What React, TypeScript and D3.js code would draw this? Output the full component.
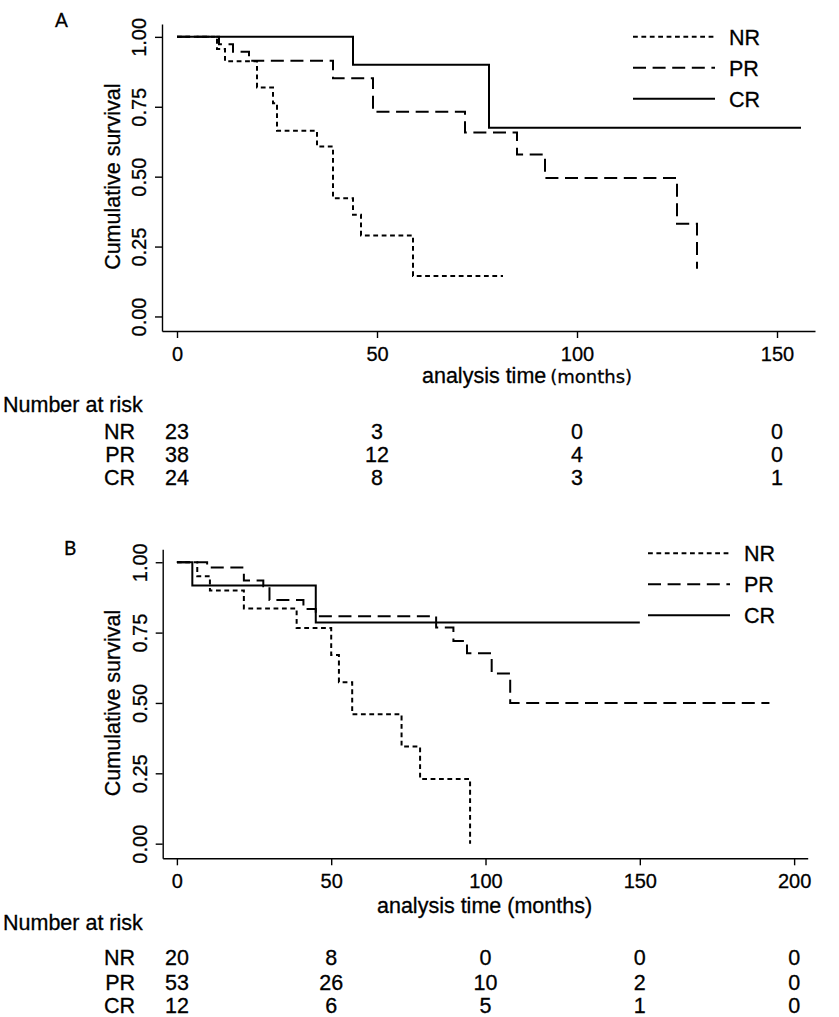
import { FC, useEffect, useRef } from 'react';
import * as d3 from 'd3';

// Panel A — step times (months) and survival after each step
const aNrTimes = [10, 12, 20, 24, 25, 35, 39, 44, 46, 59];
const aNrSurv = [0.957, 0.913, 0.819, 0.763, 0.664, 0.608, 0.423, 0.364, 0.29, 0.145];
const aNrEnd = 81.5;
const aPrTimes = [10.5, 14, 18, 39, 49, 72, 85, 92, 125, 130];
const aPrSurv = [0.974, 0.947, 0.915, 0.852, 0.732, 0.658, 0.579, 0.495, 0.332, 0.171];
const aPrEnd = 130;
const aCrTimes = [44, 78];
const aCrSurv = [0.9, 0.675];
const aCrEnd = 156;
const aTicks = [0, 50, 100, 150];
const aRiskNr = [23, 3, 0, 0];
const aRiskPr = [38, 12, 4, 0];
const aRiskCr = [24, 8, 3, 1];

// Panel B
const bNrTimes = [6.6, 10.7, 21.7, 38.8, 50, 52.5, 56.8, 72.8, 78.8, 95];
const bNrSurv = [0.95, 0.9, 0.836, 0.766, 0.67, 0.574, 0.46, 0.345, 0.23, 0];
const bNrEnd = 95;
const bPrTimes = [9.8, 21.7, 28, 30, 41, 45, 84, 89.6, 94, 102, 108];
const bPrSurv = [0.981, 0.935, 0.915, 0.866, 0.834, 0.808, 0.768, 0.72, 0.677, 0.605, 0.5];
const bPrEnd = 192;
const bCrTimes = [5, 45];
const bCrSurv = [0.917, 0.786];
const bCrEnd = 150;
const bTicks = [0, 50, 100, 150, 200];
const bRiskNr = [20, 8, 0, 0, 0];
const bRiskPr = [53, 26, 10, 2, 0];
const bRiskCr = [12, 6, 5, 1, 0];

const groups = ['NR', 'PR', 'CR'];
const yTicks = [0, 0.25, 0.5, 0.75, 1];
const FONT = '"Liberation Sans", Arial, Helvetica, sans-serif';
const dashes: Record<string, string | null> = { NR: '4.8,3.6', PR: '13,6.6', CR: null };

type Curve = { times: number[]; surv: number[]; end: number };

interface PanelCfg {
  label: string;
  labelX: number;
  labelY: number;
  xDomain: [number, number];
  xRange: [number, number];
  yRange: [number, number];
  ticks: number[];
  curves: Curve[];
  risk: number[][];
  legendX: number;
  legendY: number;
  titleX: number;
  titleY: number;
  splitTitle: boolean;
  tickLabelY: number;
  riskHeaderY: number;
  riskRowsY: number[];
}

const toPoints = (c: Curve): [number, number][] => {
  const pts: [number, number][] = [[0, 1]];
  c.times.forEach((t, i) => pts.push([t, c.surv[i]]));
  const last = c.times[c.times.length - 1];
  if (c.end > last) pts.push([c.end, c.surv[c.surv.length - 1]]);
  return pts;
};

const panels: PanelCfg[] = [
  {
    label: 'A',
    labelX: 55,
    labelY: 27,
    xDomain: [-3.75, 159.5],
    xRange: [162, 815],
    yRange: [331, 24],
    ticks: aTicks,
    curves: [
      { times: aNrTimes, surv: aNrSurv, end: aNrEnd },
      { times: aPrTimes, surv: aPrSurv, end: aPrEnd },
      { times: aCrTimes, surv: aCrSurv, end: aCrEnd },
    ],
    risk: [aRiskNr, aRiskPr, aRiskCr],
    legendX: 633,
    legendY: 36.7,
    titleX: 422,
    titleY: 383,
    splitTitle: true,
    tickLabelY: 361,
    riskHeaderY: 412,
    riskRowsY: [438.5, 461.5, 485],
  },
  {
    label: 'B',
    labelX: 64,
    labelY: 555,
    xDomain: [-4.6, 204.4],
    xRange: [162.7, 807.7],
    yRange: [858.3, 549.3],
    ticks: bTicks,
    curves: [
      { times: bNrTimes, surv: bNrSurv, end: bNrEnd },
      { times: bPrTimes, surv: bPrSurv, end: bPrEnd },
      { times: bCrTimes, surv: bCrSurv, end: bCrEnd },
    ],
    risk: [bRiskNr, bRiskPr, bRiskCr],
    legendX: 648,
    legendY: 553.3,
    titleX: 377,
    titleY: 913,
    splitTitle: false,
    tickLabelY: 888.5,
    riskHeaderY: 930,
    riskRowsY: [965, 989.5, 1013.3],
  },
];

const KaplanMeier: FC = () => {
  const svgRef = useRef<SVGSVGElement>(null);

  useEffect(() => {
    if (!svgRef.current) return;
    const svg = d3.select(svgRef.current);
    svg.selectAll('*').remove();

    panels.forEach((p) => {
      const x = d3.scaleLinear().domain(p.xDomain).range(p.xRange);
      const y = d3.scaleLinear().domain([-0.052, 1.046]).range(p.yRange);
      const g = svg.append('g');

      // panel letter
      g.append('text')
        .attr('x', p.labelX)
        .attr('y', p.labelY)
        .style('font-family', 'Lato, "Open Sans", sans-serif')
        .style('font-size', '19px')
        .text(p.label);

      // y axis
      const yAxis = g
        .append('g')
        .attr('transform', `translate(${p.xRange[0]},0)`)
        .call(d3.axisLeft(y).tickValues(yTicks).tickSize(7).tickSizeOuter(0).tickFormat(d3.format('.2f')));
      yAxis.selectAll('path, line').attr('stroke', '#000').attr('stroke-width', 1.4);
      yAxis
        .selectAll('text')
        .attr('dy', null)
        .attr('transform', 'rotate(-90)')
        .attr('x', 0)
        .attr('y', -16)
        .attr('text-anchor', 'middle')
        .style('font-family', FONT)
        .style('font-size', '20px')
        .attr('fill', '#000');

      // x axis
      const xAxis = g
        .append('g')
        .attr('transform', `translate(0,${p.yRange[0]})`)
        .call(d3.axisBottom(x).tickValues(p.ticks).tickSize(7).tickSizeOuter(0).tickFormat(d3.format('d')));
      xAxis.selectAll('path, line').attr('stroke', '#000').attr('stroke-width', 1.4);
      xAxis
        .selectAll('text')
        .attr('dy', null)
        .attr('y', p.tickLabelY - p.yRange[0])
        .style('font-family', FONT)
        .style('font-size', '20px')
        .attr('fill', '#000');

      // y title
      const yMid = (y(0) + y(1)) / 2;
      g.append('text')
        .attr('transform', `translate(120,${yMid}) rotate(-90)`)
        .attr('text-anchor', 'middle')
        .style('font-family', FONT)
        .style('font-size', '21.5px')
        .text('Cumulative survival');

      // x title
      const title = g
        .append('text')
        .attr('x', p.titleX)
        .attr('y', p.titleY)
        .style('font-family', FONT)
        .style('font-size', '21.5px');
      if (p.splitTitle) {
        title.append('tspan').text('analysis time');
        title
          .append('tspan')
          .attr('dx', 4)
          .style('font-family', '"DejaVu Sans", sans-serif')
          .style('font-size', '18px')
          .text('(months)');
      } else {
        title.text('analysis time (months)');
      }

      // survival curves
      const line = d3
        .line<[number, number]>()
        .x((d) => x(d[0]))
        .y((d) => y(d[1]))
        .curve(d3.curveStepAfter);

      p.curves.forEach((c, i) => {
        g.append('path')
          .attr('d', line(toPoints(c)) || '')
          .attr('fill', 'none')
          .attr('stroke', '#000')
          .attr('stroke-width', 2)
          .attr('stroke-dasharray', dashes[groups[i]]);
      });

      // legend
      groups.forEach((name, i) => {
        const ly = p.legendY + i * 31;
        g.append('line')
          .attr('x1', p.legendX)
          .attr('x2', p.legendX + 82)
          .attr('y1', ly)
          .attr('y2', ly)
          .attr('stroke', '#000')
          .attr('stroke-width', 2)
          .attr('stroke-dasharray', dashes[name]);
        g.append('text')
          .attr('x', p.legendX + 96)
          .attr('y', ly + 8)
          .style('font-family', FONT)
          .style('font-size', '21.5px')
          .text(name);
      });

      // number at risk table
      g.append('text')
        .attr('x', 3)
        .attr('y', p.riskHeaderY)
        .style('font-family', FONT)
        .style('font-size', '21.5px')
        .text('Number at risk');

      p.risk.forEach((row, i) => {
        const ry = p.riskRowsY[i];
        g.append('text')
          .attr('x', 135)
          .attr('y', ry)
          .attr('text-anchor', 'end')
          .style('font-family', FONT)
          .style('font-size', '21.5px')
          .text(groups[i]);
        g.selectAll(null)
          .data(row)
          .enter()
          .append('text')
          .attr('x', (_d, j) => x(p.ticks[j]))
          .attr('y', ry)
          .attr('text-anchor', 'middle')
          .style('font-family', FONT)
          .style('font-size', '21.5px')
          .text((d) => String(d));
      });
    });

    // heavier glyphs, closer to the scanned original
    svg.selectAll('text').attr('stroke', '#000').attr('stroke-width', 0.3);
  }, []);

  return (
    <svg
      ref={svgRef}
      width={839}
      height={1017}
      style={{ position: 'absolute', left: 0, top: 0, background: '#fff' }}
    />
  );
};

const App: FC = () => <KaplanMeier />;

export default App;
